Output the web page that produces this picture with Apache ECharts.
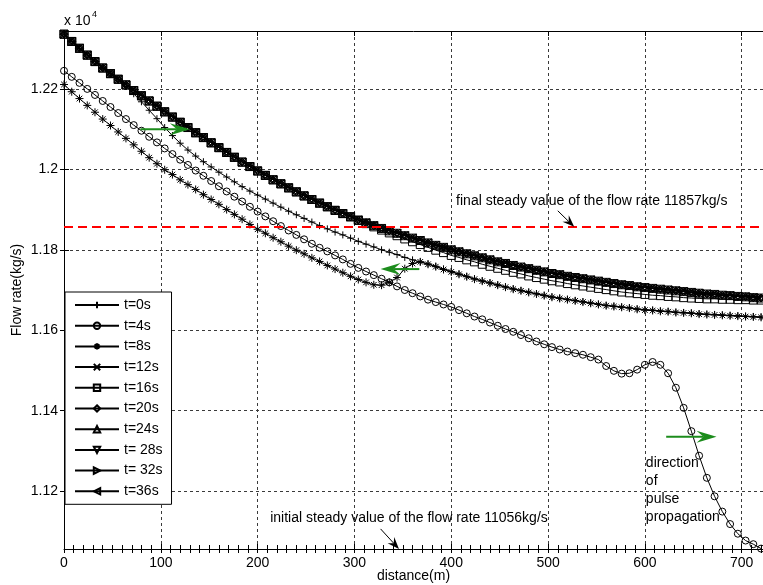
<!DOCTYPE html>
<html>
<head>
<meta charset="utf-8">
<script src="https://cdn.jsdelivr.net/npm/echarts@6/dist/echarts.min.js"></script>
<style>
  html, body { margin: 0; padding: 0; background: #fff; }
  #chart { width: 763px; height: 585px; }
</style>
</head>
<body>
<div id="chart"></div>
<script>
// Distance along the pipe (m)
const distance = [
  0, 8, 16, 24, 32, 40, 48, 56, 64, 72,
  80, 88, 96, 104, 112, 120, 128, 136, 144, 152,
  160, 168, 176, 184, 192, 200, 208, 216, 224, 232,
  240, 248, 256, 264, 272, 280, 288, 296, 304, 312,
  320, 328, 336, 344, 352, 360, 368, 376, 384, 392,
  400, 408, 416, 424, 432, 440, 448, 456, 464, 472,
  480, 488, 496, 504, 512, 520, 528, 536, 544, 552,
  560, 568, 576, 584, 592, 600, 608, 616, 624, 632,
  640, 648, 656, 664, 672, 680, 688, 696, 704, 712,
  720
];

// Flow rate profiles (kg/s) at successive instants
const flowT0 = [
  12336, 12318, 12301, 12284, 12268, 12252, 12237, 12222, 12206, 12188,
  12168, 12147, 12126, 12104, 12084, 12065, 12048, 12033, 12019, 12006,
  11993, 11981, 11969, 11957, 11946, 11936, 11926, 11916, 11906, 11896,
  11887, 11878, 11869, 11860, 11852, 11844, 11837, 11829, 11821, 11814,
  11807, 11800, 11794, 11788, 11781, 11775, 11770, 11765, 11759, 11752,
  11746, 11740, 11734, 11728, 11723, 11718, 11713, 11708, 11703, 11699,
  11695, 11691, 11687, 11683, 11680, 11677, 11674, 11671, 11668, 11665,
  11662, 11660, 11658, 11656, 11653, 11651, 11650, 11648, 11647, 11645,
  11644, 11643, 11641, 11640, 11639, 11638, 11637, 11636, 11635, 11634,
  11633
];
const flowT4 = [
  12245, 12230, 12215, 12200, 12185, 12170, 12155, 12140, 12125, 12110,
  12096, 12081, 12067, 12052, 12038, 12024, 12011, 11997, 11984, 11971,
  11958, 11945, 11932, 11920, 11907, 11895, 11883, 11871, 11859, 11848,
  11837, 11826, 11815, 11805, 11796, 11786, 11776, 11765, 11755, 11746,
  11737, 11728, 11719, 11709, 11700, 11692, 11684, 11676, 11670, 11664,
  11658, 11650, 11642, 11634, 11627, 11619, 11611, 11603, 11596, 11588,
  11580, 11572, 11565, 11558, 11552, 11547, 11543, 11539, 11533, 11527,
  11511, 11499, 11492, 11493, 11502, 11514, 11521, 11514, 11493, 11457,
  11407, 11349, 11288, 11233, 11187, 11149, 11118, 11094, 11077, 11068,
  11057
];
const flowT8 = [
  12211, 12193, 12176, 12159, 12142, 12125, 12109, 12093, 12077, 12061,
  12045, 12029, 12014, 11999, 11987, 11974, 11962, 11950, 11937, 11925,
  11913, 11900, 11888, 11876, 11863, 11851, 11841, 11830, 11820, 11809,
  11799, 11790, 11780, 11771, 11761, 11752, 11743, 11734, 11726, 11719,
  11713, 11712, 11719, 11731, 11753, 11766, 11770, 11764, 11758, 11751,
  11745, 11739, 11733, 11727, 11722, 11717, 11712, 11707, 11702, 11698,
  11694, 11690, 11686, 11682, 11679, 11676, 11673, 11670, 11667, 11664,
  11661, 11659, 11657, 11655, 11652, 11650, 11649, 11647, 11646, 11644,
  11643, 11642, 11640, 11639, 11638, 11637, 11636, 11635, 11634, 11633,
  11632
];
const flowT12 = [
  12337, 12320, 12303, 12286, 12270, 12254, 12240, 12226, 12212, 12199,
  12186, 12173, 12160, 12146, 12133, 12120, 12107, 12094, 12082, 12069,
  12057, 12045, 12033, 12021, 12010, 11999, 11988, 11977, 11967, 11957,
  11947, 11937, 11928, 11919, 11910, 11901, 11893, 11885, 11877, 11870,
  11863, 11856, 11850, 11844, 11838, 11832, 11826, 11820, 11814, 11809,
  11803, 11798, 11793, 11788, 11783, 11778, 11773, 11769, 11764, 11760,
  11756, 11752, 11748, 11744, 11741, 11737, 11734, 11731, 11728, 11725,
  11722, 11719, 11716, 11714, 11711, 11709, 11707, 11705, 11703, 11701,
  11699, 11697, 11695, 11693, 11692, 11690, 11689, 11687, 11686, 11684,
  11683
];
const flowT16 = [
  12336, 12318, 12301, 12284, 12268, 12252, 12238, 12224, 12210, 12196,
  12183, 12170, 12157, 12143, 12130, 12117, 12104, 12091, 12079, 12066,
  12054, 12042, 12030, 12018, 12007, 11996, 11985, 11974, 11964, 11954,
  11944, 11934, 11925, 11916, 11907, 11898, 11890, 11882, 11873, 11865,
  11857, 11849, 11842, 11835, 11827, 11820, 11813, 11806, 11799, 11793,
  11786, 11781, 11775, 11770, 11764, 11759, 11754, 11749, 11744, 11740,
  11735, 11731, 11727, 11723, 11720, 11716, 11713, 11710, 11707, 11704,
  11701, 11698, 11695, 11693, 11691, 11689, 11687, 11686, 11684, 11683,
  11681, 11680, 11679, 11678, 11678, 11677, 11677, 11676, 11676, 11675,
  11675
];
// From t=20s on the profile has settled; t=20s ... t=36s coincide
const flowSettled = [
  12336, 12318, 12301, 12284, 12268, 12252, 12238, 12224, 12210, 12196,
  12183, 12170, 12157, 12143, 12130, 12117, 12104, 12091, 12079, 12066,
  12054, 12042, 12030, 12018, 12007, 11996, 11985, 11974, 11964, 11954,
  11944, 11934, 11925, 11916, 11907, 11898, 11890, 11882, 11874, 11867,
  11860, 11853, 11847, 11841, 11835, 11829, 11823, 11817, 11811, 11806,
  11800, 11795, 11790, 11785, 11780, 11775, 11770, 11766, 11761, 11757,
  11753, 11749, 11745, 11741, 11738, 11734, 11731, 11728, 11725, 11722,
  11719, 11716, 11713, 11711, 11708, 11706, 11704, 11702, 11700, 11698,
  11696, 11694, 11692, 11690, 11689, 11687, 11686, 11684, 11683, 11681,
  11680
];

const seriesNames = ['t=0s', 't=4s', 't=8s', 't=12s', 't=16s', 't=20s', 't=24s', 't= 28s', 't= 32s', 't=36s'];
const seriesData = [flowT0, flowT4, flowT8, flowT12, flowT16, flowSettled, flowSettled, flowSettled, flowSettled, flowSettled];

const yTicks = [11200, 11400, 11600, 11800, 12000, 12200];
const initialSteady = 11056;   // kg/s
const finalSteady = 11857;     // kg/s
const distanceMax = 722;
const flowMax = 12344;

const FONT = "'Liberation Sans', Arial, Helvetica, sans-serif";
const ink = '#000';
const green = '#1c8c1c';

// MATLAB-style marker shapes
const plusPath = 'path://M0,5L10,5M5,0L5,10';
const crossPath = 'path://M0,0L10,10M0,10L10,0';
const starPath = 'path://M0,5L10,5M5,0L5,10M1.5,1.5L8.5,8.5M1.5,8.5L8.5,1.5';
const markers = [
  { symbol: plusPath, size: 7, rotate: 0 },
  { symbol: 'circle', size: 7, rotate: 0 },
  { symbol: starPath, size: 8, rotate: 0 },
  { symbol: crossPath, size: 6, rotate: 0 },
  { symbol: 'rect', size: 8, rotate: 0 },
  { symbol: 'diamond', size: 8, rotate: 0 },
  { symbol: 'triangle', size: 8, rotate: 0 },
  { symbol: 'triangle', size: 8, rotate: 180 },
  { symbol: 'triangle', size: 8, rotate: -90 },
  { symbol: 'triangle', size: 8, rotate: 90 }
];

const chart = echarts.init(document.getElementById('chart'), null, { renderer: 'canvas' });

const gridLine = { color: '#3a3a3a', type: [3, 3], width: 1 };
const textBase = { fontFamily: FONT, fontSize: 14, color: ink };

const series = seriesNames.map((name, k) => ({
  name,
  type: 'line',
  xAxisIndex: 0,
  yAxisIndex: 0,
  data: distance.map((d, i) => [d, seriesData[k][i]]),
  symbol: markers[k].symbol,
  symbolSize: markers[k].size,
  symbolRotate: markers[k].rotate,
  showSymbol: true,
  showAllSymbol: true,
  lineStyle: { color: ink, width: 1 },
  itemStyle: { color: 'rgba(0,0,0,0)', borderColor: ink, borderWidth: 1 },
  emphasis: { disabled: true },
  silent: true,
  z: 3
}));

// final steady level
series[0].markLine = {
  silent: true,
  symbol: 'none',
  label: { show: false },
  lineStyle: { color: '#ff0000', type: [9, 5], width: 2 },
  emphasis: { disabled: true },
  data: [{ yAxis: finalSteady }]
};

const gridBox = { left: 64, top: 31, right: 0, bottom: 36, outerBoundsMode: 'none', containLabel: false };
const xScale = { type: 'value', min: 0, max: distanceMax, interval: 100 };
const yScale = { type: 'value', min: initialSteady, max: flowMax };

chart.setOption({
  animation: false,
  backgroundColor: '#fff',
  grid: [Object.assign({}, gridBox), Object.assign({}, gridBox)],
  legend: {
    data: seriesNames,
    orient: 'vertical',
    left: 65,
    top: 292,
    itemWidth: 44,
    itemHeight: 8,
    itemGap: 6.7,
    padding: [6, 9, 6, 9],
    backgroundColor: '#fff',
    borderColor: ink,
    borderWidth: 1,
    borderRadius: 0,
    selectedMode: false,
    textStyle: { fontFamily: FONT, fontSize: 14, color: ink, lineHeight: 14 },
    z: 10
  },
  xAxis: [
    Object.assign({}, xScale, {
      gridIndex: 0,
      position: 'bottom',
      name: 'distance(m)',
      nameLocation: 'middle',
      nameGap: 20,
      nameMoveOverlap: false,
      nameTextStyle: textBase,
      axisLine: { show: true, onZero: false, lineStyle: { color: ink, width: 1 } },
      axisTick: { show: true, inside: true, length: 5, lineStyle: { color: ink } },
      minorTick: { show: true, splitNumber: 10, length: 4, lineStyle: { color: ink } },
      axisLabel: Object.assign({ margin: 7, showMaxLabel: false }, textBase),
      splitLine: { show: true, lineStyle: gridLine }
    }),
    Object.assign({}, xScale, {
      gridIndex: 0,
      position: 'top',
      axisLine: { show: true, onZero: false, lineStyle: { color: ink, width: 1 } },
      axisTick: { show: true, inside: true, length: 5, lineStyle: { color: ink } },
      axisLabel: { show: false },
      splitLine: { show: false }
    }),
    Object.assign({}, xScale, {
      gridIndex: 1,
      position: 'bottom',
      axisLine: { show: false },
      axisTick: { show: true, inside: false, length: 4, lineStyle: { color: ink } },
      minorTick: { show: true, splitNumber: 10, length: 4, lineStyle: { color: ink } },
      axisLabel: { show: false },
      splitLine: { show: false }
    })
  ],
  yAxis: [
    Object.assign({}, yScale, {
      gridIndex: 0,
      position: 'left',
      name: 'Flow rate(kg/s)',
      nameLocation: 'middle',
      nameGap: 40,
      nameMoveOverlap: false,
      nameTextStyle: textBase,
      axisLine: { show: true, onZero: false, lineStyle: { color: ink, width: 1 } },
      axisTick: { show: true, inside: true, length: 5, customValues: yTicks, lineStyle: { color: ink } },
      axisLabel: Object.assign({
        margin: 6,
        customValues: yTicks,
        formatter: v => String(+(v / 10000).toFixed(2))
      }, textBase),
      splitLine: { show: true, lineStyle: gridLine }
    }),
    Object.assign({}, yScale, {
      gridIndex: 1,
      position: 'left',
      axisLine: { show: false },
      axisTick: { show: true, inside: false, length: 4, customValues: yTicks, lineStyle: { color: ink } },
      axisLabel: { show: false },
      splitLine: { show: false }
    })
  ],
  series
});

// Annotations placed in data coordinates
const toPx = p => chart.convertToPixel({ xAxisIndex: 0, yAxisIndex: 0 }, p);

function arrow(from, to, color, L, W, lw) {
  const a = toPx(from), b = toPx(to);
  const dx = b[0] - a[0], dy = b[1] - a[1];
  const len = Math.hypot(dx, dy);
  const ux = dx / len, uy = dy / len, nx = -uy, ny = ux;
  const notch = [b[0] - 0.65 * L * ux, b[1] - 0.65 * L * uy];
  return [
    { type: 'line', silent: true, z: 100,
      shape: { x1: a[0], y1: a[1], x2: notch[0], y2: notch[1] },
      style: { stroke: color, lineWidth: lw } },
    { type: 'polygon', silent: true, z: 101,
      shape: { points: [
        b,
        [b[0] - L * ux + W * nx, b[1] - L * uy + W * ny],
        notch,
        [b[0] - L * ux - W * nx, b[1] - L * uy - W * ny]
      ] },
      style: { fill: color } }
  ];
}

function note(text, at, opts) {
  const p = toPx(at);
  return {
    type: 'text', silent: true, z: 100, x: p[0], y: p[1],
    style: Object.assign({ text, font: `14px ${FONT}`, fill: ink, align: 'left', verticalAlign: 'middle' }, opts || {})
  };
}

const graphics = [].concat(
  arrow([79, 12100], [130, 12100], green, 20, 6, 2),
  arrow([367, 11752], [327, 11752], green, 20, 6, 2),
  arrow([622, 11335], [674, 11335], green, 20, 6, 2),
  arrow([510, 11897], [527, finalSteady], ink, 12, 4.5, 1),
  arrow([327, 11106], [346, initialSteady], ink, 12, 4.5, 1),
  [
    note(`final steady value of the flow rate ${finalSteady}kg/s`, [405, 11922]),
    note(`initial steady value of the flow rate ${initialSteady}kg/s`, [213, 11133]),
    note('direction\nof\npulse\npropagation', [601, 11291], { verticalAlign: 'top', lineHeight: 17.8 }),
    { type: 'text', silent: true, z: 100, x: 64, y: 21,
      style: { text: 'x 10', font: `14px ${FONT}`, fill: ink, align: 'left', verticalAlign: 'middle' } },
    { type: 'text', silent: true, z: 100, x: 92, y: 15,
      style: { text: '4', font: `9px ${FONT}`, fill: ink, align: 'left', verticalAlign: 'middle' } }
  ]
);

chart.setOption({ graphic: graphics });
</script>
</body>
</html>
